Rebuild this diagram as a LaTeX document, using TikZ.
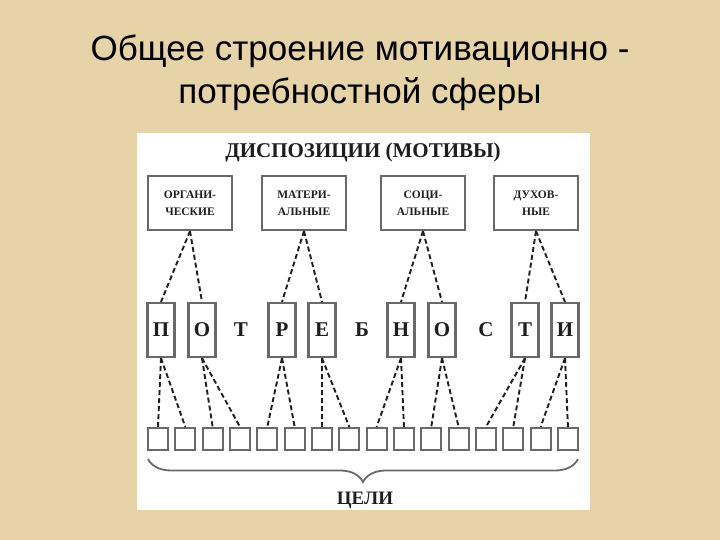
\documentclass[tikz,border=0pt]{standalone}
\usepackage{fontspec}
\setmainfont{Liberation Serif}
\newfontfamily\titlefont{Liberation Sans}
\usetikzlibrary{decorations.pathreplacing}
\definecolor{parch}{RGB}{230,211,168}
\definecolor{frame}{RGB}{105,105,105}
\definecolor{ink}{RGB}{30,30,30}
\begin{document}
\begin{tikzpicture}[x=1pt,y=-1pt,
  titletext/.style={font=\titlefont\fontsize{35}{35}\selectfont, anchor=base, inner sep=0pt, text=black},
  motbox/.style={draw=frame, line width=2.2pt, fill=white, minimum width=84pt, minimum height=54pt, inner sep=0pt, align=center, font=\bfseries\fontsize{11.5}{17}\selectfont, text=ink},
  letbox/.style={draw=frame, line width=2.2pt, minimum width=27pt, minimum height=54pt, inner sep=0pt, font=\bfseries\fontsize{21}{21}\selectfont, text=ink},
  letfree/.style={inner sep=0pt, font=\bfseries\fontsize{21}{21}\selectfont, text=ink},
  goalbox/.style={draw=frame, line width=2.2pt, minimum width=20pt, minimum height=22pt, inner sep=0pt},
  link/.style={draw=ink, line width=1.9pt, dash pattern=on 5pt off 3pt},
  headtext/.style={font=\bfseries\fontsize{21}{21}\selectfont, inner sep=0pt, text=ink}
]
\useasboundingbox (0,0) rectangle (720,540);
\fill[parch] (0,0) rectangle (720,540);
\fill[white] (137,133) rectangle (590,510);

\node[titletext] (title1) at (360,61) {Общее строение мотивационно -};
\node[titletext] (title2) at (360,104) {потребностной сферы};

\node[headtext] (head) at (363,152) {ДИСПОЗИЦИИ (МОТИВЫ)};

\node[motbox] (M1) at (190,203) {ОРГАНИ-\\ЧЕСКИЕ};
\node[motbox] (M2) at (304,203) {МАТЕРИ-\\АЛЬНЫЕ};
\node[motbox] (M3) at (423,203) {СОЦИ-\\АЛЬНЫЕ};
\node[motbox] (M4) at (536,203) {ДУХОВ-\\НЫЕ};

\node[letbox] (L1) at (161,330) {П};
\node[letbox] (L2) at (202,330) {О};
\node[letfree] (F1) at (241,330) {Т};
\node[letbox] (L3) at (282,330) {Р};
\node[letbox] (L4) at (322,330) {Е};
\node[letfree] (F2) at (362,330) {Б};
\node[letbox] (L5) at (401,330) {Н};
\node[letbox] (L6) at (442,330) {О};
\node[letfree] (F3) at (486,330) {С};
\node[letbox] (L7) at (525,330) {Т};
\node[letbox] (L8) at (565,330) {И};

\foreach \i in {1,...,16}
  \node[goalbox] (g\i) at ({158+27.33*(\i-1)},439) {};

\foreach \m/\a/\b in {1/1/2,2/3/4,3/5/6,4/7/8} {
  \draw[link] (M\m.south) -- (L\a.north);
  \draw[link] (M\m.south) -- (L\b.north);
}
\foreach \l/\a/\b in {1/1/2,2/3/4,3/5/6,4/7/8,5/9/10,6/11/12,7/13/14,8/15/16} {
  \draw[link] (L\l.south) -- (g\a.north);
  \draw[link] (L\l.south) -- (g\b.north);
}

\coordinate (bl) at (148,459);
\coordinate (br) at (578,459);
\draw[frame, line width=1.8pt, decorate, decoration={brace, mirror, amplitude=23pt, aspect=0.5}] (bl) -- (br);
\node[headtext, font=\bfseries\fontsize{19}{19}\selectfont] (goals) at (365,500) {ЦЕЛИ};
\end{tikzpicture}
\end{document}
